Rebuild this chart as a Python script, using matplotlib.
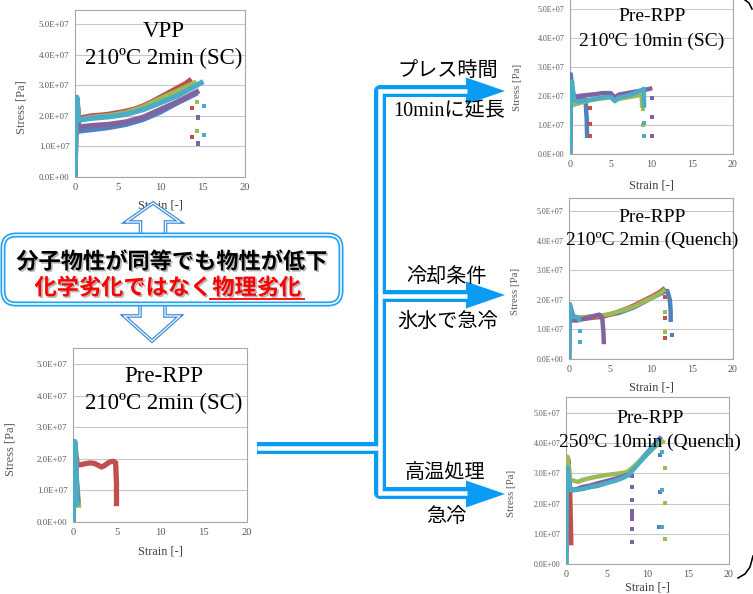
"""
Stress-strain comparison slide: VPP vs Pre-RPP under different press conditions.
"""

import matplotlib.pyplot as plt
import matplotlib.patheffects as pe
from matplotlib.patches import FancyBboxPatch, Polygon
from matplotlib.ticker import FuncFormatter

W, H = 753, 594

# Excel 2007 series colours
BLUE, RED, GREEN, PURPLE, CYAN = '#4F81BD', '#C0504D', '#9BBB59', '#8064A2', '#4BACC6'
SERIES = [('blue', BLUE), ('red', RED), ('green', GREEN), ('purple', PURPLE), ('cyan', CYAN)]

x_ticks = [0, 5, 10, 15, 20]
y_ticks = [0, 1, 2, 3, 4, 5]  # x 1e7 Pa

# --- VPP 210C 2min (SC): strain, stress [1e7 Pa]
vpp_curves = {
    'blue': ([0, 0.1, 0.2, 0.45, 1, 2, 4, 6, 8, 10, 12, 14.4],
             [0, 1.6, 2.5, 1.5, 1.52, 1.55, 1.62, 1.72, 1.88, 2.12, 2.42, 2.75]),
    'red': ([0, 0.1, 0.2, 0.45, 1, 2, 3, 4, 5, 6, 7, 8, 9, 10, 11, 12, 13, 13.7],
            [0, 1.8, 2.6, 1.92, 1.95, 2.0, 2.02, 2.05, 2.1, 2.15, 2.22, 2.32, 2.45, 2.6, 2.75, 2.9, 3.05, 3.2]),
    'green': ([0, 0.1, 0.2, 0.45, 1, 2, 4, 6, 8, 10, 12, 14.3],
              [0, 1.7, 2.5, 1.85, 1.9, 1.95, 2.0, 2.1, 2.28, 2.55, 2.8, 3.1]),
    'purple': ([0, 0.1, 0.2, 0.45, 1, 2, 4, 6, 8, 10, 12, 14.6],
               [0, 1.6, 2.45, 1.62, 1.65, 1.68, 1.72, 1.8, 1.95, 2.2, 2.45, 2.82]),
    'cyan': ([0, 0.1, 0.2, 0.45, 1, 2, 4, 6, 8, 10, 12, 13, 14, 15.1],
             [0, 1.8, 2.6, 1.85, 1.88, 1.92, 1.97, 2.05, 2.2, 2.42, 2.65, 2.8, 2.95, 3.12]),
}
vpp_drops = {
    'blue': ([14.5, 14.5], [1.93, 1.07]),
    'red': ([13.8, 13.8], [2.26, 1.3]),
    'green': ([14.3, 14.3], [2.46, 1.5]),
    'purple': ([14.5, 14.5], [1.96, 1.1]),
    'cyan': ([15.2, 15.2], [2.33, 1.38]),
}

# --- Pre-RPP 210C 2min (SC)
rpp_sc_curves = {
    'blue': ([0, 0.1, 0.2, 0.4, 0.55], [0, 1.5, 2.2, 1.2, 0.6]),
    'red': ([0, 0.1, 0.25, 0.5, 1, 1.5, 2, 2.5, 3, 3.3, 3.7, 4.2, 4.6, 4.9, 5.0, 5.0],
            [0, 1.6, 2.3, 1.8, 1.82, 1.85, 1.87, 1.85, 1.78, 1.74, 1.8, 1.9, 1.92, 1.88, 1.2, 0.5]),
    'green': ([0, 0.1, 0.2, 0.45, 0.6, 0.65], [0, 1.4, 2.0, 1.2, 0.7, 0.45]),
    'purple': ([0, 0.1, 0.2, 0.4, 0.5, 0.55], [0, 1.5, 2.1, 1.2, 0.8, 0.6]),
    'cyan': ([0, 0.1, 0.2, 0.3, 0.4, 0.45], [0, 1.5, 2.55, 2.3, 1.2, 0.5]),
}
rpp_sc_drops = {}

# --- Pre-RPP 210C 10min (SC)
rpp_10_curves = {
    'blue': ([0, 0.05, 0.1, 0.3, 0.6, 1, 1.5, 1.9, 2.05, 2.1],
             [0, 1.8, 2.75, 2.1, 1.97, 1.93, 1.9, 1.88, 1.2, 0.55]),
    'red': ([0, 0.1, 0.2, 0.5, 1, 1.5, 2, 2.3], [0, 1.6, 2.2, 1.72, 1.75, 1.8, 1.85, 1.88]),
    'green': ([0, 0.1, 0.2, 0.5, 1, 2, 3, 4, 5, 5.5, 6, 7, 8, 8.8, 8.85],
              [0, 1.6, 2.1, 1.7, 1.75, 1.82, 1.88, 1.92, 1.95, 1.85, 1.9, 1.95, 2.0, 2.05, 1.6]),
    'purple': ([0, 0.1, 0.2, 0.5, 1, 2, 3, 4, 5, 5.5, 6, 7, 8, 9, 10.1],
               [0, 1.8, 2.3, 1.95, 2.0, 2.03, 2.06, 2.1, 2.1, 1.95, 2.05, 2.1, 2.15, 2.2, 2.27]),
    'cyan': ([0, 0.1, 0.25, 0.5, 1, 2, 3, 4, 5, 5.5, 6, 7, 8, 8.8, 9.05, 9.1],
             [0, 1.9, 2.5, 1.85, 1.8, 1.85, 1.9, 1.95, 1.97, 1.82, 1.95, 2.0, 2.1, 2.2, 2.25, 1.6]),
}
rpp_10_drops = {
    'red': ([2.4, 2.4, 2.4], [1.57, 1.05, 0.61]),
    'green': ([8.95, 8.95], [1.55, 1.0]),
    'purple': ([10.1, 10.1, 10.1], [1.94, 1.28, 0.61]),
    'cyan': ([9.1, 9.1], [1.07, 0.61]),
}

# --- Pre-RPP 210C 2min (Quench)
rpp_q_curves = {
    'blue': ([0, 0.05, 0.1, 0.5, 1, 2, 3, 4, 6, 8, 10, 11.5, 12.0, 12.3, 12.4, 12.4],
             [0, 1.5, 1.85, 1.45, 1.4, 1.4, 1.42, 1.45, 1.55, 1.75, 2.05, 2.25, 2.3, 2.0, 1.6, 1.25]),
    'red': ([0, 0.05, 0.15, 0.5, 1, 2, 3, 4, 5, 6, 7, 8, 9, 10, 11, 11.7],
            [0, 1.3, 1.6, 1.32, 1.33, 1.36, 1.4, 1.42, 1.5, 1.6, 1.7, 1.82, 1.96, 2.1, 2.25, 2.4]),
    'green': ([0, 0.05, 0.15, 0.5, 1, 2, 3, 4, 5, 6, 7, 8, 9, 10, 11, 11.7],
              [0, 1.25, 1.55, 1.38, 1.4, 1.42, 1.45, 1.47, 1.52, 1.6, 1.68, 1.78, 1.92, 2.06, 2.2, 2.35]),
    'purple': ([0, 0.05, 0.15, 0.5, 1, 2, 3, 3.7, 4.05, 4.2, 4.25],
               [0, 1.4, 1.6, 1.3, 1.3, 1.38, 1.45, 1.5, 1.4, 0.9, 0.5]),
    'cyan': ([0, 0.05, 0.1, 0.3, 0.6, 1, 1.2, 1.3], [0, 1.5, 1.85, 1.45, 1.42, 1.42, 1.38, 1.25]),
}
rpp_q_drops = {
    'blue': ([12.5], [0.81]),
    'red': ([11.7, 11.7, 11.7], [2.1, 1.37, 0.7]),
    'green': ([11.7, 11.7], [1.58, 0.92]),
    'cyan': ([1.3, 1.3], [0.95, 0.59]),
}

# --- Pre-RPP 250C 10min (Quench)
rpp_hq_curves = {
    'blue': ([0, 0.1, 0.2, 0.5, 1, 2, 3, 4, 5, 6, 7, 7.7, 8.5, 9.5, 10.5, 11.5, 11.7],
             [0, 2.3, 3.1, 2.5, 2.45, 2.5, 2.55, 2.6, 2.7, 2.8, 2.9, 3.0, 3.25, 3.55, 3.85, 4.15, 4.22]),
    'red': ([0, 0.15, 0.3, 0.5, 0.6, 0.65], [0, 3.0, 3.45, 2.5, 1.3, 0.62]),
    'green': ([0, 0.1, 0.2, 0.5, 1, 1.5, 2, 3, 4, 5, 6, 7, 7.5, 8, 9, 10, 11, 12, 12.05],
              [0, 2.5, 3.55, 2.8, 2.75, 2.72, 2.78, 2.85, 2.9, 2.95, 2.98, 3.02, 3.05, 3.15, 3.4, 3.65, 3.9, 4.08, 4.1]),
    'purple': ([0, 0.1, 0.2, 0.5, 1, 2, 3, 4, 5, 6, 7, 7.5, 8.1],
               [0, 2.2, 3.0, 2.45, 2.45, 2.55, 2.6, 2.68, 2.75, 2.82, 2.9, 2.95, 2.95]),
    'cyan': ([0, 0.1, 0.2, 0.5, 1, 2, 3, 4, 5, 6, 7, 7.7, 8.5, 9.5, 10.5, 11.2],
             [0, 2.5, 3.2, 2.45, 2.45, 2.48, 2.55, 2.6, 2.68, 2.75, 2.85, 2.95, 3.2, 3.5, 3.8, 4.0]),
}
rpp_hq_drops = {
    'blue': ([11.5, 11.5, 11.4], [3.6, 2.4, 1.23]),
    'green': ([12.1, 12.1, 12.1], [3.19, 2.03, 0.84]),
    'purple': ([8.15] * 9, [2.9, 2.55, 2.13, 1.75, 1.65, 1.55, 1.5, 1.17, 0.73]),
    'cyan': ([11.8, 11.8, 11.8], [3.7, 2.45, 1.23]),
}


def px_rect(left, right, y0, y5, ytop):
    """Axes rect (figure fraction) from pixel positions of x=0/20 and y=0/5e7."""
    per = (y0 - y5) / 5.0
    top = y0 - ytop * per
    return [left / W, 1 - y0 / H, (right - left) / W, (y0 - top) / H], y0 - top


def draw_chart(spec, curves, drops, lines, big):
    left, right, y0, y5, ytop, title_y, label_x, strain_y = spec
    rect, hpx = px_rect(left, right, y0, y5, ytop)
    ax = fig.add_axes(rect)
    lw = 3.8 if big else 3.2
    for key, col in SERIES:
        if key in curves:
            xs, ys = curves[key]
            ax.plot(xs, ys, color=col, lw=lw, solid_joinstyle='round', solid_capstyle='butt', zorder=3)
        if key in drops:
            xs, ys = drops[key]
            ax.plot(xs, ys, 's', color=col, ms=3.0 if big else 2.7, mew=0, zorder=3)
    ax.set_xlim(0, 20)
    ax.set_ylim(0, ytop)
    ax.set_xticks(x_ticks)
    ax.set_yticks(y_ticks)
    ax.yaxis.set_major_formatter(FuncFormatter(lambda v, p: f'{v * 1e7:.1E}'))
    ax.tick_params(length=0, labelcolor='#595959', pad=4)
    ax.tick_params(axis='y', labelsize=6.4 if big else 5.7)
    ax.tick_params(axis='x', labelsize=7.6 if big else 7.2)
    ax.yaxis.grid(True, color='#C8C8C8', lw=0.8)
    for s in ax.spines.values():
        s.set_color('#A6A6A6')
        s.set_linewidth(0.8)
    ax.set_ylabel('Stress [Pa]', fontsize=9 if big else 7.8, color='#595959', va='center')
    ax.yaxis.set_label_coords((label_x - left) / (right - left), 0.42)
    ax.set_xlabel('Strain [-]', fontsize=8.8, color='#404040', va='center')
    ax.xaxis.set_label_coords(0.5, -(strain_y - y0) / hpx)
    tfs = 16.5 if big else 14
    for txt, (tx, ty) in zip(lines, title_y):
        ax.text(tx, ty, txt, transform=ax.transAxes, ha='center', va='center',
                fontsize=tfs, color='black', zorder=6)
    return ax


plt.rcParams['font.family'] = ['Liberation Serif', 'Noto Sans CJK JP']
fig = plt.figure(figsize=(W / 100, H / 100), dpi=100)

# (left, right, y0, y5, ytop, title positions, stress label x, strain label y)
draw_chart((75, 245, 177, 24, 5.46, [(0.52, 0.87), (0.52, 0.71)], 21, 205),
           vpp_curves, vpp_drops, ['VPP', '210ºC 2min (SC)'], True)
draw_chart((73, 247, 522, 364, 5.5, [(0.52, 0.84), (0.52, 0.684)], 11, 552),
           rpp_sc_curves, rpp_sc_drops, ['Pre-RPP', '210ºC 2min (SC)'], True)
draw_chart((570, 733, 154, 9, 5.45, [(0.503, 0.867), (0.503, 0.715)], 517, 185),
           rpp_10_curves, rpp_10_drops, ['Pre-RPP', '210ºC 10min (SC)'], False)
draw_chart((569, 733, 359, 211, 5.44, [(0.506, 0.876), (0.506, 0.739)], 515, 388),
           rpp_q_curves, rpp_q_drops, ['Pre-RPP', '210ºC 2min (Quench)'], False)
draw_chart((566, 729, 564, 413, 5.53, [(0.515, 0.874), (0.515, 0.73)], 511, 587),
           rpp_hq_curves, rpp_hq_drops, ['Pre-RPP', '250ºC 10min (Quench)'], False)

# overlay in pixel coordinates for arrows, callout and labels
ov = fig.add_axes([0, 0, 1, 1], zorder=10)
ov.set_xlim(0, W)
ov.set_ylim(H, 0)
ov.axis('off')

PX = 0.72  # points per pixel
ARROW = '#0A9BF5'

# double-line connector paths
paths = [
    ([467, 380, 380, 467], [91, 91, 493, 493]),
    ([380, 467], [296, 296]),
    ([257, 380], [448, 448]),
]
for xs, ys in paths:
    ov.plot(xs, ys, color=ARROW, lw=12 * PX, solid_joinstyle='round', solid_capstyle='butt')
for xs, ys in paths:
    ov.plot(xs, ys, color='white', lw=4.5 * PX, solid_joinstyle='miter', solid_capstyle='butt')
for ty in [91, 295, 494]:
    ov.add_patch(Polygon([(505, ty), (466, ty - 13.5), (466, ty + 13.5)], closed=True,
                         facecolor=ARROW, edgecolor='none'))

# hollow up/down arrows around the callout
HOLLOW = '#3A8AD8'
up = [(153, 203), (180, 222), (165.5, 222), (165.5, 238), (140.5, 238), (140.5, 222), (126, 222)]
down = [(152, 341), (180, 316), (165, 316), (165, 302), (140, 302), (140, 316), (124, 316)]
for pts in (up, down):
    ov.add_patch(Polygon(pts, closed=True, facecolor='white', edgecolor=HOLLOW, lw=3.6 * PX,
                         joinstyle='miter'))
    ov.add_patch(Polygon(pts, closed=True, facecolor='none', edgecolor='white', lw=1.2 * PX,
                         joinstyle='miter'))

# callout box with double border
BOX = '#22A2EE'
ov.add_patch(FancyBboxPatch((3, 235), 338, 69, boxstyle='round,pad=0,rounding_size=13',
                            facecolor='white', edgecolor=BOX, lw=5 * PX))
ov.add_patch(FancyBboxPatch((3, 235), 338, 69, boxstyle='round,pad=0,rounding_size=13',
                            facecolor='none', edgecolor='white', lw=1.6 * PX))

shadow = [pe.SimplePatchShadow(offset=(1.2, -1.2), shadow_rgbFace='#888888', alpha=0.6), pe.Normal()]
ov.text(172, 262, '分子物性が同等でも物性が低下', ha='center', va='center', fontsize=16,
        fontweight='bold', family='Noto Sans CJK JP', color='black', path_effects=shadow)
ov.text(168, 288, '化学劣化ではなく物理劣化', ha='center', va='center', fontsize=16,
        fontweight='bold', family='Noto Sans CJK JP', color='#FF0000', path_effects=shadow)
ov.plot([210, 304], [299, 299], color='#FF0000', lw=1.8 * PX)

# condition labels
jp = dict(ha='center', va='center', fontsize=14.5, color='black')
ov.text(448, 70, 'プレス時間', family='Noto Sans CJK JP', **jp)
ov.text(449, 112, '10minに延長', family=['Liberation Serif', 'Noto Sans CJK JP'], **jp)
ov.text(447, 277, '冷却条件', family='Noto Sans CJK JP', **jp)
ov.text(448, 321, '氷水で急冷', family='Noto Sans CJK JP', **jp)
ov.text(445, 473, '高温処理', family='Noto Sans CJK JP', **jp)
ov.text(446, 517, '急冷', family='Noto Sans CJK JP', **jp)

# edge of a brace at the right border
ov.plot([745, 749, 752], [0, 3, 9], color='black', lw=1.6 * PX)
ov.plot([738, 745, 750, 753], [578, 574, 567, 556], color='black', lw=1.6 * PX)

fig.savefig('out.png', dpi=100)
